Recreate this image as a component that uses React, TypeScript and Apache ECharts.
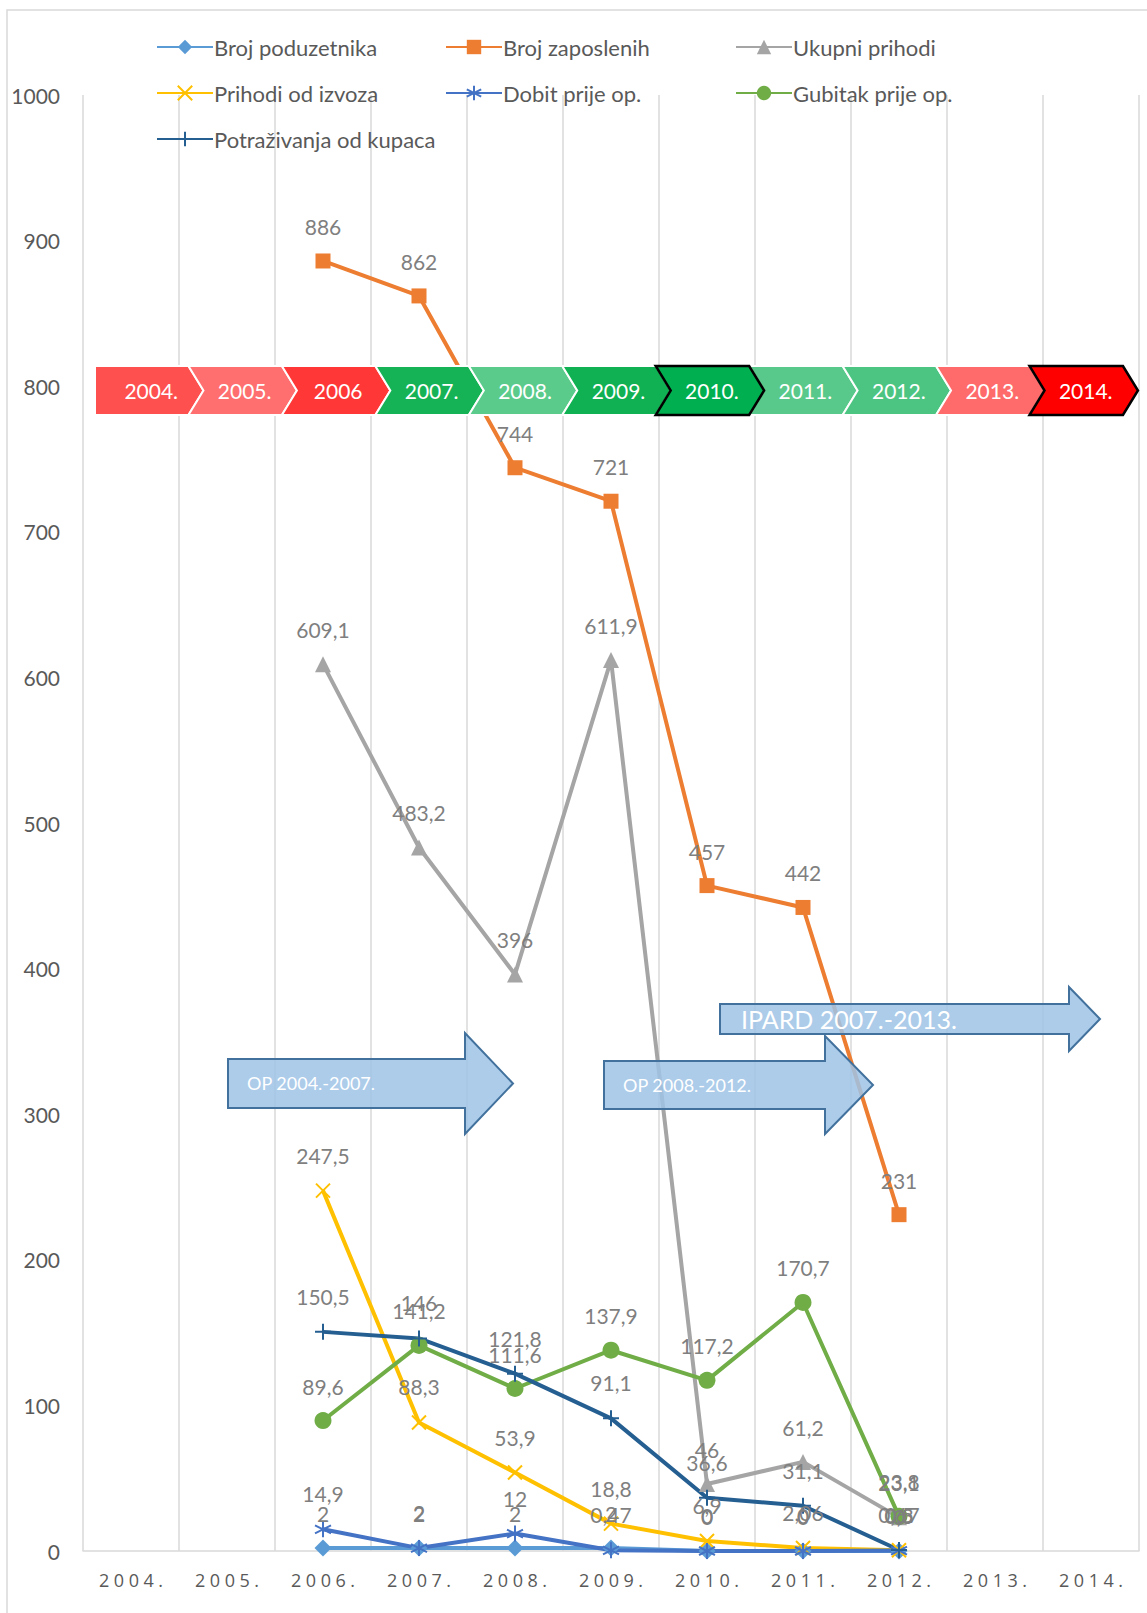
import React, { useEffect, useRef } from "react";
import * as echarts from "echarts";

const categories = ["2004.", "2005.", "2006.", "2007.", "2008.", "2009.", "2010.", "2011.", "2012.", "2013.", "2014."];
const yTicks = { min: 0, max: 1000, interval: 100 };

const brojPoduzetnika = [null, null, 2, 2, 2, 2, 0, 0, 0, null, null];
const brojZaposlenih = [null, null, 886, 862, 744, 721, 457, 442, 231, null, null];
const ukupniPrihodi = [null, null, 609.1, 483.2, 396, 611.9, 46, 61.2, 23.1, null, null];
const prihodiIzvoza = [null, null, 247.5, 88.3, 53.9, 18.8, 6.9, 2.06, 0.5, null, null];
const dobitPrije = [null, null, 14.9, 2, 12, 0.47, 0, 0, 0.3, null, null];
const gubitakPrije = [null, null, 89.6, 141.2, 111.6, 137.9, 117.2, 170.7, 23.8, null, null];
const potrazivanja = [null, null, 150.5, 146, 121.8, 91.1, 36.6, 31.1, 0.67, null, null];

const chevronLabels = ["2004.", "2005.", "2006", "2007.", "2008.", "2009.", "2010.", "2011.", "2012.", "2013.", "2014."];
const chevronColors = ["#FF5050", "#FF6F6F", "#FF3737", "#16B356", "#5BCB8C", "#0FB152", "#00B050", "#58C98A", "#4DC582", "#FF6B6B", "#FF0000"];
const chevronHighlighted = [false, false, false, false, false, false, true, false, false, false, true];

const arrowLabels = ["OP 2004.-2007.", "OP 2008.-2012.", "IPARD 2007.-2013."];

const FONT = "Lato";
const LABEL_COLOR = "#7F7F7F";
const TEXT_COLOR = "#595959";

const X_PATH = "path://M0,0L10,10M10,0L0,10";
const STAR_PATH = "path://M5,0L5,10M0.7,2.5L9.3,7.5M9.3,2.5L0.7,7.5";
const PLUS_PATH = "path://M5,0L5,10M0,5L10,5";

function fmt(v: any) {
  if (v == null) return "";
  return String(v).replace(".", ",");
}

function buildChevrons() {
  const els: any[] = [];
  const x0 = 95;
  const p = 93.45;
  const d = 15;
  const top = 366;
  const bottom = 415;
  const mid = (top + bottom) / 2;
  const order = chevronLabels.map((_, i) => i).sort((a, b) => Number(chevronHighlighted[a]) - Number(chevronHighlighted[b]));
  order.forEach((i) => {
    const left = x0 + i * p;
    const right = left + p;
    const pts: number[][] = i === 0
      ? [[left, top], [right, top], [right + d, mid], [right, bottom], [left, bottom]]
      : [[left, top], [right, top], [right + d, mid], [right, bottom], [left, bottom], [left + d, mid]];
    els.push({
      type: "polygon",
      z: chevronHighlighted[i] ? 12 : 10,
      shape: { points: pts },
      style: {
        fill: chevronColors[i],
        stroke: chevronHighlighted[i] ? "#000000" : "#FFFFFF",
        lineWidth: chevronHighlighted[i] ? 2.5 : 2,
      },
    });
    els.push({
      type: "text",
      z: 13,
      x: left + p / 2 + d / 2 + 2,
      y: mid,
      style: {
        text: chevronLabels[i],
        fill: "#FFFFFF",
        font: `21px ${FONT}`,
        align: "center",
        verticalAlign: "middle",
      },
    });
  });
  return els;
}

function blockArrow(bodyL: number, bodyT: number, bodyB: number, headX: number, headT: number, headB: number, tipX: number) {
  const mid = (bodyT + bodyB) / 2;
  return [
    [bodyL, bodyT], [headX, bodyT], [headX, headT], [tipX, mid], [headX, headB], [headX, bodyB], [bodyL, bodyB],
  ];
}

function buildArrows() {
  const arrowStyle = { fill: "rgba(157,195,230,0.85)", stroke: "#41719C", lineWidth: 2 };
  const defs = [
    { pts: blockArrow(228, 1059, 1108, 465, 1033, 1134, 513), tx: 247, ty: 1083, size: 18 },
    { pts: blockArrow(604, 1061, 1109, 825, 1036, 1134, 873), tx: 623, ty: 1085, size: 18 },
    { pts: blockArrow(720, 1004, 1034, 1069, 987, 1051, 1100), tx: 741, ty: 1019, size: 25 },
  ];
  const els: any[] = [];
  defs.forEach((a, i) => {
    els.push({ type: "polygon", z: 20, shape: { points: a.pts }, style: arrowStyle });
    els.push({
      type: "text",
      z: 21,
      x: a.tx,
      y: a.ty,
      style: { text: arrowLabels[i], fill: "#FFFFFF", font: `${a.size}px ${FONT}`, align: "left", verticalAlign: "middle" },
    });
  });
  return els;
}

export default function App() {
  const ref = useRef<HTMLDivElement>(null);
  useEffect(() => {
    if (!ref.current) return;
    const chart = echarts.init(ref.current, null, { renderer: "svg" });

    const mk = (name: string, data: any[], color: string, symbol: string, size: number, stroke = false) => ({
      name,
      type: "line",
      data,
      connectNulls: false,
      symbol,
      symbolSize: size,
      showSymbol: true,
      lineStyle: { color, width: 4 },
      itemStyle: stroke
        ? { color, borderColor: color, borderWidth: 2 }
        : { color, borderColor: color, borderWidth: 0 },
      label: {
        show: true,
        position: "top",
        distance: 24 - size / 2,
        color: LABEL_COLOR,
        fontSize: 21,
        fontFamily: FONT,
        formatter: (p: any) => fmt(p.value),
      },
      emphasis: { disabled: true },
    });

    const series = [
      mk("Broj poduzetnika", brojPoduzetnika, "#5B9BD5", "diamond", 17),
      mk("Broj zaposlenih", brojZaposlenih, "#ED7D31", "rect", 15),
      mk("Ukupni prihodi", ukupniPrihodi, "#A5A5A5", "triangle", 16),
      mk("Prihodi od izvoza", prihodiIzvoza, "#FFC000", X_PATH, 14, true),
      mk("Dobit prije op.", dobitPrije, "#4472C4", STAR_PATH, 16, true),
      mk("Gubitak prije op.", gubitakPrije, "#70AD47", "circle", 17),
      mk("Potraživanja od kupaca", potrazivanja, "#255E91", PLUS_PATH, 16, true),
    ];

    const legendPos = [
      { left: 156, top: 48 },
      { left: 445, top: 48 },
      { left: 735, top: 48 },
      { left: 156, top: 94 },
      { left: 445, top: 94 },
      { left: 735, top: 94 },
      { left: 156, top: 140 },
    ];
    const legends = series.map((s, i) => ({
      show: true,
      data: [s.name],
      left: legendPos[i].left,
      top: legendPos[i].top - 12,
      padding: 0,
      itemGap: 0,
      itemWidth: 56,
      itemHeight: 18,
      selectedMode: false,
      textStyle: { color: TEXT_COLOR, fontSize: 22, fontFamily: FONT, padding: [0, 0, 0, -4] },
    }));

    chart.setOption({
      animation: false,
      backgroundColor: "#FFFFFF",
      legend: legends,
      grid: { left: 83, right: 8, top: 95, bottom: 62, containLabel: false },
      xAxis: {
        type: "category",
        data: categories,
        boundaryGap: true,
        axisLine: { show: true, lineStyle: { color: "#D9D9D9", width: 1.5 } },
        axisTick: { show: false },
        splitLine: { show: true, interval: 0, lineStyle: { color: "#D9D9D9", width: 1.5 } },
        axisLabel: {
          interval: 0,
          margin: 20,
          color: TEXT_COLOR,
          fontSize: 18,
          fontFamily: "Open Sans",
          formatter: (v: string) => v.split("").join("\u2005"),
        },
      },
      yAxis: {
        type: "value",
        min: yTicks.min,
        max: yTicks.max,
        interval: yTicks.interval,
        axisLine: { show: false },
        axisTick: { show: false },
        splitLine: { show: false },
        axisLabel: { color: TEXT_COLOR, fontSize: 21, fontFamily: FONT, margin: 23, formatter: (v: number) => String(v) },
      },
      graphic: [
        {
          type: "rect",
          z: 0,
          shape: { x: 7, y: 10, width: 1300, height: 1800 },
          style: { fill: "none", stroke: "#D9D9D9", lineWidth: 1.5 },
        },
        ...buildChevrons(),
        ...buildArrows(),
      ],
      series,
    });
    return () => chart.dispose();
  }, []);

  return <div ref={ref} style={{ position: "absolute", left: 0, top: 0, width: 1147, height: 1613 }} />;
}
